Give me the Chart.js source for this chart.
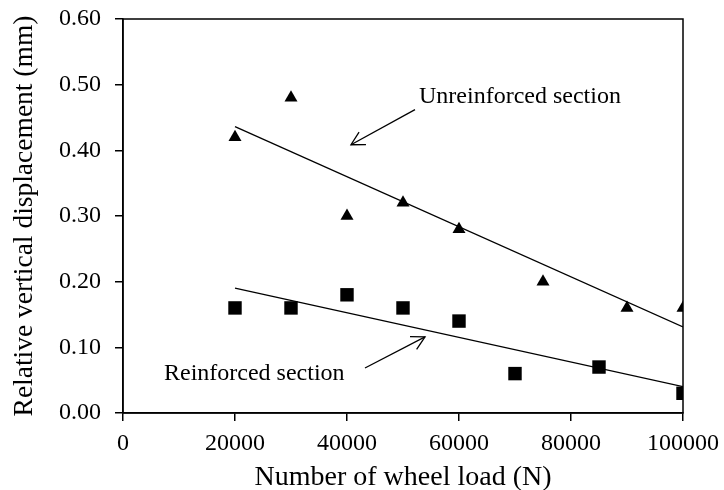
<!DOCTYPE html>
<html><head><meta charset="utf-8">
<script src="https://cdn.jsdelivr.net/npm/chart.js@4"></script>
<style>html,body{margin:0;padding:0;background:#fff}#wrap{width:724px;height:490px}</style>
</head><body><div id="wrap"><canvas id="c" width="724" height="490"></canvas></div>
<script>
// Data
const unreinfX = [20000, 30000, 40000, 50000, 60000, 75000, 90000, 100000];
const unreinfY = [0.42, 0.48, 0.30, 0.32, 0.28, 0.20, 0.16, 0.16];
const reinfX = [20000, 30000, 40000, 50000, 60000, 70000, 85000, 100000];
const reinfY = [0.16, 0.16, 0.18, 0.16, 0.14, 0.06, 0.07, 0.03];
const unreinfTrendX = [20000, 100000];
const unreinfTrendY = [0.436, 0.131];
const reinfTrendX = [20000, 100000];
const reinfTrendY = [0.190, 0.040];
const xTicks = [0, 20000, 40000, 60000, 80000, 100000];
const yTicks = [0.00, 0.10, 0.20, 0.30, 0.40, 0.50, 0.60];
// annotations: label, text anchor (x,y), arrow start, arrow end (data units)
const annoLabels = ['Unreinforced section', 'Reinforced section'];
const annoTextX = [52860, 7320];
const annoTextY = [0.4726, 0.0503];
const arrowFromX = [52140, 43210];
const arrowFromY = [0.462, 0.0686];
const arrowToX = [40710, 53930];
const arrowToY = [0.4085, 0.1159];

const pts = (xs, ys) => xs.map((x, i) => ({x, y: ys[i]}));
const FONT = 'Liberation Serif, Times New Roman, serif';

const framePlugin = {
  id: 'frame',
  afterDraw(chart) {
    const {ctx, chartArea: a, scales} = chart;
    ctx.save();
    ctx.strokeStyle = '#000';
    ctx.lineWidth = 1.5;
    ctx.strokeRect(a.left, a.top, a.right - a.left, a.bottom - a.top);
    // annotations
    ctx.fillStyle = '#000';
    ctx.font = '24px ' + FONT;
    ctx.textBaseline = 'alphabetic';
    ctx.textAlign = 'left';
    ctx.lineWidth = 1.3;
    for (let i = 0; i < annoLabels.length; i++) {
      ctx.fillText(annoLabels[i], scales.x.getPixelForValue(annoTextX[i]), scales.y.getPixelForValue(annoTextY[i]));
      const x1 = scales.x.getPixelForValue(arrowFromX[i]), y1 = scales.y.getPixelForValue(arrowFromY[i]);
      const x2 = scales.x.getPixelForValue(arrowToX[i]), y2 = scales.y.getPixelForValue(arrowToY[i]);
      ctx.beginPath(); ctx.moveTo(x1, y1); ctx.lineTo(x2, y2); ctx.stroke();
      const ang = Math.atan2(y2 - y1, x2 - x1), L = 15, s = 0.5;
      ctx.beginPath();
      ctx.moveTo(x2 - L * Math.cos(ang - s), y2 - L * Math.sin(ang - s));
      ctx.lineTo(x2, y2);
      ctx.lineTo(x2 - L * Math.cos(ang + s), y2 - L * Math.sin(ang + s));
      ctx.stroke();
    }
    ctx.restore();
  }
};

new Chart(document.getElementById('c'), {
  type: 'scatter',
  data: {
    datasets: [
      {data: pts(unreinfX, unreinfY), pointStyle: 'triangle', pointRadius: 7.5, backgroundColor: '#000', borderColor: '#000', borderWidth: 0},
      {data: pts(reinfX, reinfY), pointStyle: 'rect', pointRadius: 9.5, backgroundColor: '#000', borderColor: '#000', borderWidth: 0},
      {data: pts(unreinfTrendX, unreinfTrendY), showLine: true, pointRadius: 0, borderColor: '#000', borderWidth: 1.3},
      {data: pts(reinfTrendX, reinfTrendY), showLine: true, pointRadius: 0, borderColor: '#000', borderWidth: 1.3}
    ]
  },
  options: {
    responsive: false,
    animation: false,
    devicePixelRatio: 1,
    layout: {padding: {left: 0, top: 19, right: 41, bottom: 0}},
    plugins: {legend: {display: false}, tooltip: {enabled: false}},
    scales: {
      x: {
        type: 'linear', min: 0, max: 100000,
        afterBuildTicks: s => { s.ticks = xTicks.map(v => ({value: v})); },
        afterFit: s => { s.height = 77; s.paddingLeft = 0; s.paddingRight = 0; },
        ticks: {color: '#000', font: {family: FONT, size: 24}, padding: 8, maxRotation: 0, callback: v => String(v)},
        grid: {drawOnChartArea: false, drawTicks: true, tickLength: 8, color: '#000', lineWidth: 1.5},
        border: {display: true, color: '#000', width: 1.5},
        title: {display: true, text: 'Number of wheel load (N)', color: '#000', font: {family: FONT, size: 28, lineHeight: 0.9}, padding: {top: 0, bottom: 0}}
      },
      y: {
        type: 'linear', min: 0, max: 0.6,
        afterBuildTicks: s => { s.ticks = yTicks.map(v => ({value: v})); },
        afterFit: s => { s.width = 123; s.paddingTop = 0; s.paddingBottom = 0; },
        ticks: {color: '#000', font: {family: FONT, size: 24}, padding: 14, callback: v => Number(v).toFixed(2)},
        grid: {drawOnChartArea: false, drawTicks: true, tickLength: 8, color: '#000', lineWidth: 1.5},
        border: {display: true, color: '#000', width: 1.5},
        title: {display: true, text: 'Relative vertical displacement (mm)', color: '#000', font: {family: FONT, size: 27.5, lineHeight: 1.2}, padding: {top: 8, bottom: 0}}
      }
    }
  },
  plugins: [framePlugin]
});
</script>
</body></html>
